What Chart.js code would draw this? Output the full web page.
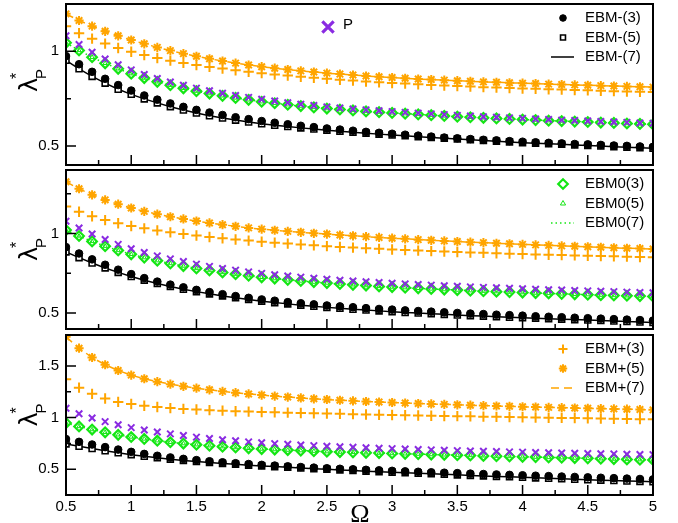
<!DOCTYPE html>
<html>
<head>
<meta charset="utf-8">
<script src="https://cdn.jsdelivr.net/npm/chart.js@4.4.1/dist/chart.umd.min.js"></script>
<style>
  body { margin: 0; background: #fff; width: 678px; height: 523px; overflow: hidden; position: relative; }
  canvas { position: absolute; left: 0; }
</style>
</head>
<body>
<canvas id="c1" width="678" height="168" style="top:0px"></canvas>
<canvas id="c2" width="678" height="163" style="top:168px"></canvas>
<canvas id="c3" width="678" height="192" style="top:331px"></canvas>
<script>
// Omega grid, shared by all three panels
let omega = [0.5,0.6,0.7,0.8,0.9,
  1.0,1.1,1.2,1.3,1.4,1.5,1.6,1.7,1.8,1.9,
  2.0,2.1,2.2,2.3,2.4,2.5,2.6,2.7,2.8,2.9,
  3.0,3.1,3.2,3.3,3.4,3.5,3.6,3.7,3.8,3.9,
  4.0,4.1,4.2,4.3,4.4,4.5,4.6,4.7,4.8,4.9,
  5.0];

let xTickLabels = [0.5, 1, 1.5, 2, 2.5, 3, 3.5, 4, 4.5, 5];
let xTicks = [0.5,0.75,1,1.25,1.5,1.75,2,2.25,2.5,2.75,3,3.25,3.5,3.75,4,4.25,4.5,4.75,5];

// ---- top panel (EBM-) ----
let p1Minus3 = [0.975,0.932,0.892,0.855,0.822,
  0.793,0.767,0.745,0.725,0.707,0.691,0.677,0.664,0.652,0.642,
  0.632,0.623,0.615,0.607,0.600,0.593,0.587,0.581,0.575,0.570,
  0.565,0.560,0.555,0.550,0.545,0.541,0.537,0.533,0.530,0.526,
  0.523,0.520,0.517,0.514,0.511,0.509,0.506,0.503,0.501,0.498,
  0.496];
let p1Minus5 = [0.953,0.908,0.868,0.832,0.800,
  0.773,0.749,0.728,0.708,0.690,0.674,0.660,0.648,0.637,0.627,
  0.618,0.610,0.603,0.596,0.590,0.584,0.578,0.573,0.568,0.563,
  0.558,0.554,0.549,0.545,0.541,0.537,0.533,0.529,0.525,0.522,
  0.518,0.515,0.512,0.509,0.506,0.503,0.500,0.497,0.494,0.491,
  0.488];
let p1Zero = [1.045,1.005,0.969,0.937,0.908,
  0.882,0.859,0.839,0.821,0.805,0.790,0.777,0.765,0.754,0.744,
  0.734,0.726,0.718,0.711,0.704,0.698,0.693,0.688,0.683,0.679,
  0.675,0.671,0.667,0.663,0.659,0.655,0.652,0.649,0.646,0.643,
  0.640,0.637,0.634,0.632,0.629,0.627,0.624,0.622,0.619,0.617,
  0.615];
let p1P = [1.082,1.036,0.995,0.960,0.929,
  0.902,0.878,0.857,0.838,0.821,0.806,0.792,0.779,0.767,0.757,
  0.747,0.738,0.729,0.721,0.714,0.707,0.701,0.696,0.691,0.686,
  0.682,0.678,0.674,0.670,0.666,0.662,0.659,0.655,0.652,0.649,
  0.646,0.643,0.640,0.637,0.635,0.632,0.630,0.627,0.625,0.622,
  0.620];
let p1Plus3 = [1.132,1.096,1.067,1.041,1.018,
  0.998,0.981,0.965,0.951,0.939,0.928,0.918,0.909,0.900,0.892,
  0.885,0.878,0.872,0.866,0.860,0.855,0.850,0.846,0.841,0.837,
  0.833,0.830,0.826,0.823,0.820,0.817,0.814,0.811,0.809,0.806,
  0.804,0.802,0.800,0.798,0.796,0.794,0.792,0.790,0.788,0.787,
  0.785];
let p1Plus5 = [1.198,1.163,1.133,1.106,1.082,
  1.060,1.040,1.021,1.004,0.988,0.974,0.961,0.949,0.938,0.928,
  0.919,0.911,0.904,0.897,0.891,0.885,0.880,0.875,0.870,0.866,
  0.862,0.858,0.854,0.851,0.848,0.845,0.842,0.839,0.837,0.834,
  0.832,0.830,0.827,0.825,0.823,0.821,0.819,0.817,0.815,0.813,
  0.811];

// ---- middle panel (EBM0) ----
let p2Minus3 = [0.915,0.875,0.838,0.804,0.773,
  0.745,0.720,0.698,0.679,0.662,0.646,0.632,0.619,0.607,0.596,
  0.586,0.578,0.569,0.562,0.555,0.548,0.542,0.537,0.531,0.526,
  0.522,0.517,0.513,0.509,0.505,0.501,0.497,0.494,0.490,0.487,
  0.484,0.480,0.477,0.474,0.471,0.468,0.465,0.462,0.459,0.456,
  0.453];
let p2Minus5 = [0.885,0.849,0.815,0.784,0.756,
  0.730,0.707,0.686,0.667,0.650,0.635,0.621,0.608,0.596,0.585,
  0.575,0.566,0.558,0.550,0.543,0.536,0.530,0.524,0.519,0.514,
  0.509,0.504,0.500,0.496,0.492,0.488,0.484,0.481,0.477,0.474,
  0.471,0.468,0.465,0.462,0.459,0.456,0.453,0.450,0.447,0.444,
  0.441];
let p2Zero = [1.022,0.985,0.951,0.921,0.894,
  0.870,0.849,0.830,0.812,0.796,0.781,0.768,0.756,0.745,0.735,
  0.725,0.717,0.709,0.702,0.695,0.689,0.683,0.678,0.673,0.668,
  0.664,0.660,0.656,0.652,0.648,0.645,0.641,0.638,0.635,0.632,
  0.629,0.626,0.624,0.621,0.618,0.616,0.613,0.611,0.609,0.607,
  0.605];
let p2P = [1.078,1.035,0.997,0.963,0.932,
  0.905,0.881,0.860,0.841,0.824,0.808,0.794,0.781,0.770,0.759,
  0.750,0.741,0.733,0.726,0.719,0.713,0.707,0.702,0.697,0.692,
  0.688,0.684,0.680,0.676,0.672,0.669,0.665,0.662,0.659,0.656,
  0.653,0.650,0.647,0.645,0.642,0.640,0.637,0.635,0.632,0.630,
  0.628];
let p2Plus3 = [1.170,1.137,1.109,1.085,1.065,
  1.048,1.033,1.020,1.008,0.998,0.988,0.979,0.971,0.963,0.956,
  0.949,0.943,0.937,0.931,0.926,0.921,0.916,0.912,0.908,0.904,
  0.900,0.897,0.893,0.890,0.887,0.884,0.881,0.879,0.876,0.874,
  0.871,0.869,0.867,0.865,0.863,0.861,0.859,0.857,0.855,0.853,
  0.851];
let p2Plus5 = [1.326,1.282,1.244,1.212,1.185,
  1.161,1.140,1.122,1.106,1.092,1.079,1.067,1.056,1.046,1.036,
  1.028,1.021,1.014,1.008,1.002,0.997,0.991,0.986,0.981,0.976,
  0.971,0.967,0.962,0.958,0.954,0.950,0.946,0.943,0.939,0.936,
  0.932,0.929,0.926,0.923,0.920,0.917,0.914,0.911,0.908,0.906,
  0.903];

// ---- bottom panel (EBM+) ----
let p3Minus3 = [0.792,0.765,0.739,0.714,0.690,
  0.668,0.648,0.630,0.614,0.600,0.588,0.577,0.567,0.558,0.550,
  0.542,0.535,0.528,0.521,0.515,0.509,0.504,0.499,0.494,0.489,
  0.484,0.479,0.475,0.470,0.466,0.462,0.457,0.453,0.449,0.445,
  0.441,0.437,0.433,0.429,0.425,0.421,0.417,0.413,0.409,0.405,
  0.401];
let p3Minus5 = [0.745,0.722,0.700,0.679,0.659,
  0.641,0.625,0.610,0.597,0.585,0.574,0.564,0.555,0.547,0.539,
  0.532,0.525,0.518,0.511,0.505,0.499,0.493,0.487,0.481,0.476,
  0.470,0.465,0.460,0.455,0.450,0.445,0.440,0.435,0.430,0.426,
  0.421,0.416,0.412,0.407,0.403,0.398,0.394,0.390,0.386,0.382,
  0.378];
let p3Zero = [0.947,0.914,0.884,0.857,0.833,
  0.812,0.793,0.776,0.761,0.748,0.737,0.727,0.718,0.710,0.702,
  0.695,0.690,0.685,0.680,0.675,0.670,0.666,0.663,0.659,0.656,
  0.652,0.649,0.646,0.642,0.639,0.636,0.633,0.629,0.626,0.623,
  0.620,0.617,0.614,0.611,0.608,0.605,0.601,0.598,0.595,0.592,
  0.589];
let p3P = [1.090,1.037,0.996,0.961,0.930,
  0.903,0.880,0.860,0.842,0.826,0.811,0.798,0.786,0.775,0.765,
  0.756,0.748,0.741,0.734,0.728,0.722,0.717,0.712,0.707,0.703,
  0.699,0.695,0.691,0.687,0.684,0.680,0.677,0.674,0.671,0.668,
  0.665,0.662,0.660,0.657,0.655,0.652,0.650,0.648,0.645,0.643,
  0.641];
let p3Plus3 = [1.372,1.290,1.230,1.185,1.152,
  1.131,1.115,1.102,1.092,1.084,1.078,1.072,1.067,1.062,1.058,
  1.054,1.051,1.048,1.045,1.042,1.039,1.036,1.033,1.030,1.027,
  1.025,1.022,1.020,1.018,1.016,1.014,1.012,1.009,1.007,1.005,
  1.003,1.001,0.999,0.997,0.995,0.993,0.991,0.989,0.987,0.985,
  0.983];
let p3Plus5 = [1.782,1.672,1.582,1.512,1.456,
  1.411,1.376,1.348,1.324,1.303,1.285,1.269,1.254,1.241,1.229,
  1.218,1.208,1.199,1.190,1.182,1.175,1.168,1.162,1.156,1.151,
  1.146,1.141,1.136,1.132,1.128,1.124,1.120,1.116,1.112,1.109,
  1.105,1.102,1.099,1.096,1.093,1.090,1.087,1.084,1.081,1.078,
  1.075];

const BLACK = '#000000';
const GREEN = '#14e614';
const ORANGE = '#ffa500';
const PURPLE = '#8a2be2';
const FONT = '"Liberation Sans", Arial, sans-serif';

let pts = (ys) => omega.map((x, i) => ({ x: x, y: ys[i] }));

// one panel = the same 10 series, only the values change
function panelSets(m3, m5, zero, p, plus3, plus5) {
  return [
    { label: 'EBM-(3)', data: pts(m3), pointStyle: 'circle', pointRadius: 3.8,
      borderColor: BLACK, backgroundColor: BLACK, borderWidth: 1 },
    { label: 'EBM-(5)', data: pts(m5), pointStyle: 'rect', pointRadius: 4.2,
      borderColor: BLACK, backgroundColor: '#fff', borderWidth: 1.6 },
    { label: 'EBM-(7)', data: pts(m5), showLine: true, pointRadius: 0,
      borderColor: BLACK, borderWidth: 1.5 },
    { label: 'P', data: pts(p), pointStyle: 'crossRot', pointRadius: 4.6,
      borderColor: PURPLE, backgroundColor: PURPLE, borderWidth: 2 },
    { label: 'EBM0(3)', data: pts(zero), pointStyle: 'rectRot', pointRadius: 4.8,
      borderColor: GREEN, backgroundColor: 'rgba(0,0,0,0)', borderWidth: 2.2 },
    { label: 'EBM0(5)', data: pts(zero), pointStyle: 'triangle', pointRadius: 2.4,
      borderColor: GREEN, backgroundColor: 'rgba(0,0,0,0)', borderWidth: 1 },
    { label: 'EBM0(7)', data: pts(zero), showLine: true, pointRadius: 0,
      borderColor: GREEN, borderWidth: 1.5, borderDash: [1.5, 3] },
    { label: 'EBM+(5)', data: pts(plus5), pointStyle: 'star', pointRadius: 4.6,
      borderColor: ORANGE, backgroundColor: ORANGE, borderWidth: 2 },
    { label: 'EBM+(3)', data: pts(plus3), pointStyle: 'cross', pointRadius: 5.2,
      borderColor: ORANGE, backgroundColor: ORANGE, borderWidth: 2 },
    { label: 'EBM+(7)', data: pts(plus5), showLine: true, pointRadius: 0,
      borderColor: ORANGE, borderWidth: 1.5, borderDash: [8, 5] }
  ];
}

function mark(ctx, ds, x, y, r) {
  ctx.save();
  ctx.strokeStyle = ds.borderColor;
  ctx.lineWidth = ds.borderWidth;
  if (ds.showLine) {
    ctx.setLineDash(ds.borderDash || []);
    ctx.beginPath();
    ctx.moveTo(x - 12, y);
    ctx.lineTo(x + 11, y);
    ctx.stroke();
  } else {
    ctx.fillStyle = ds.backgroundColor;
    Chart.helpers.drawPoint(ctx, { pointStyle: ds.pointStyle, radius: r || ds.pointRadius,
      rotation: 0, borderWidth: ds.borderWidth }, x, y);
  }
  ctx.restore();
}

function yLabel(ctx, cx, cy) {
  ctx.save();
  ctx.translate(cx, cy);
  ctx.rotate(-Math.PI / 2);
  ctx.fillStyle = '#000';
  ctx.textAlign = 'left';
  ctx.textBaseline = 'alphabetic';
  ctx.font = '24px "DejaVu Sans"';
  let w = ctx.measureText('λ').width;
  let x0 = -(w + 9) / 2;
  ctx.fillText('λ', x0, 9);
  ctx.font = '16px ' + FONT;
  ctx.fillText('*', x0 + w - 1, -6);
  ctx.font = '15px ' + FONT;
  ctx.fillText('P', x0 + w - 1, 18);
  ctx.restore();
}

// frame, inward ticks, y label, legend
function decor(cfg) {
  return {
    id: 'decor',
    afterDraw(chart) {
      let ctx = chart.ctx, a = chart.chartArea;
      let sx = chart.scales.x, sy = chart.scales.y;
      let sets = chart.data.datasets;
      ctx.save();
      ctx.strokeStyle = '#000';
      ctx.lineWidth = 1.5;
      ctx.beginPath();
      xTicks.forEach(v => {
        let px = sx.getPixelForValue(v);
        let len = xTickLabels.includes(v) ? 10 : 5;
        ctx.moveTo(px, a.bottom);
        ctx.lineTo(px, a.bottom - len);
      });
      cfg.yTicks.forEach(v => {
        let py = sy.getPixelForValue(v);
        let len = cfg.yLabels.includes(v) ? 10 : 5;
        ctx.moveTo(a.left, py);
        ctx.lineTo(a.left + len, py);
      });
      ctx.stroke();
      ctx.lineWidth = 2;
      ctx.strokeRect(a.left, a.top, a.right - a.left, a.bottom - a.top);

      yLabel(ctx, 28, (a.top + a.bottom) / 2 + (cfg.labelShift || 0));

      ctx.font = '15px ' + FONT;
      ctx.fillStyle = '#000';
      ctx.textBaseline = 'middle';
      ctx.textAlign = 'left';
      let rows = [14, 33.5, 53];
      cfg.legend.forEach((k, i) => {
        let ds = sets[k];
        let y = a.top + rows[i];
        mark(ctx, ds, 563, y, cfg.legendR ? cfg.legendR[i] : 0);
        ctx.fillText(ds.label, 585, y);
      });
      if (cfg.pKey) {
        let ds = sets[3];
        ctx.save();
        ctx.strokeStyle = PURPLE;
        ctx.lineWidth = 3.2;
        Chart.helpers.drawPoint(ctx, { pointStyle: 'crossRot', radius: 8, rotation: 0, borderWidth: 3.2 }, 328, 27);
        ctx.restore();
        ctx.fillText(ds.label, 343, 25);
      }
      if (cfg.omegaTitle) {
        ctx.font = '26px "Liberation Serif", serif';
        ctx.textAlign = 'center';
        ctx.textBaseline = 'alphabetic';
        ctx.fillText('Ω', 360, chart.height - 1);
      }
      ctx.restore();
    }
  };
}

function makePanel(id, sets, yMin, yMax, yTicks, yLabels, padTop, xHeight, showX, cfg) {
  cfg.yTicks = yTicks;
  cfg.yLabels = yLabels;
  return new Chart(document.getElementById(id).getContext('2d'), {
    type: 'scatter',
    data: { datasets: sets },
    options: {
      responsive: false,
      animation: false,
      events: [],
      layout: { autoPadding: false, padding: { top: padTop, right: 25, bottom: 0, left: 0 } },
      elements: { line: { tension: 0 } },
      datasets: { scatter: { clip: 0 } },
      plugins: { legend: { display: false }, tooltip: { enabled: false } },
      scales: {
        x: {
          type: 'linear', min: 0.5, max: 5,
          afterBuildTicks: s => { s.ticks = xTicks.map(v => ({ value: v })); },
          afterFit: s => { s.height = xHeight; s.paddingLeft = 0; s.paddingRight = 0; },
          grid: { display: false, drawTicks: false },
          border: { display: false },
          ticks: {
            display: showX, autoSkip: false, maxRotation: 0, padding: 3, color: '#000',
            font: { family: FONT, size: 15 },
            callback: v => xTickLabels.includes(v) ? String(v) : ''
          }
        },
        y: {
          type: 'linear', min: yMin, max: yMax,
          afterBuildTicks: s => { s.ticks = yTicks.map(v => ({ value: v })); },
          afterFit: s => { s.width = 66; s.paddingTop = 0; s.paddingBottom = 0; },
          grid: { display: false, drawTicks: false },
          border: { display: false },
          ticks: {
            autoSkip: false, padding: 7, color: '#000',
            font: { family: FONT, size: 15 },
            callback: v => yLabels.includes(v) ? String(v) : ''
          }
        }
      }
    },
    plugins: [decor(cfg)]
  });
}

makePanel('c1', panelSets(p1Minus3, p1Minus5, p1Zero, p1P, p1Plus3, p1Plus5),
  0.4, 1.25, [0.5, 0.75, 1], [0.5, 1], 4, 3, false,
  { legend: [0, 1, 2], legendR: [3.3, 3.5, 0], pKey: true, labelShift: -4 });
makePanel('c2', panelSets(p2Minus3, p2Minus5, p2Zero, p2P, p2Plus3, p2Plus5),
  0.4, 1.4, [0.5, 0.75, 1, 1.25], [0.5, 1], 2, 2, false,
  { legend: [4, 5, 6], legendR: [4.8, 3, 0] });
makePanel('c3', panelSets(p3Minus3, p3Minus5, p3Zero, p3P, p3Plus3, p3Plus5),
  0.25, 1.8, [0.5, 0.75, 1, 1.25, 1.5], [0.5, 1, 1.5], 4, 28, true,
  { legend: [8, 7, 9], legendR: [4.5, 4.2, 0], omegaTitle: true });
</script>
</body>
</html>
